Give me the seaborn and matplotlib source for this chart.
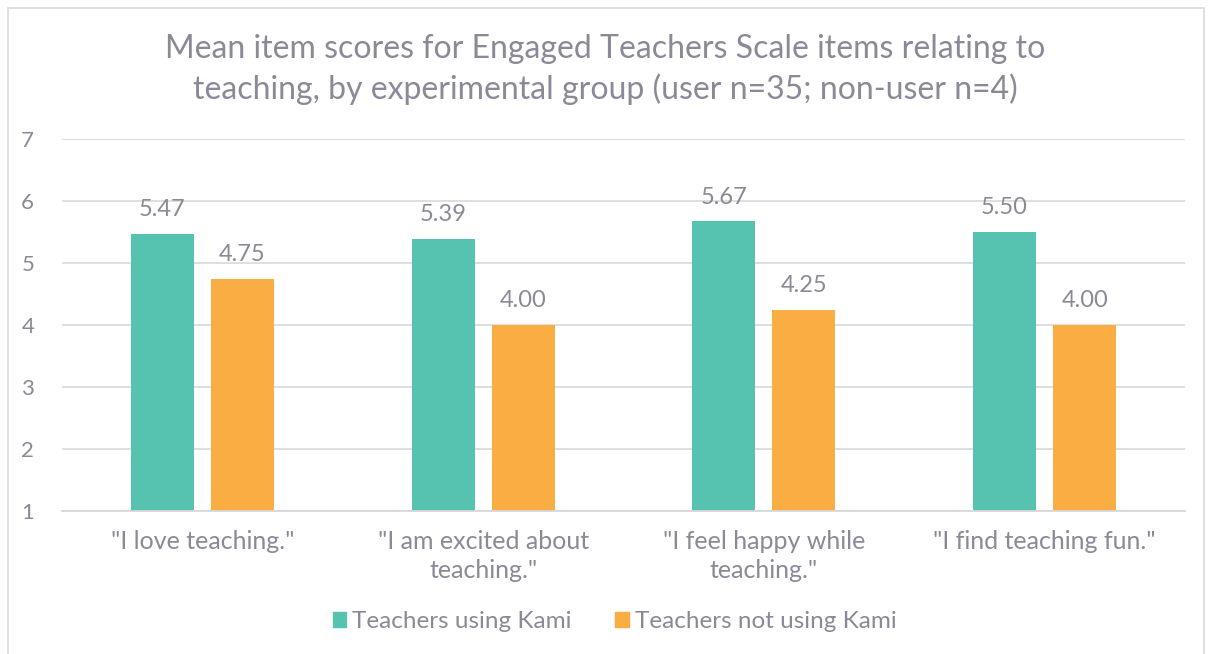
import pandas as pd
import numpy as np
import matplotlib.pyplot as plt
import seaborn as sns
from matplotlib.patches import Rectangle

items = ['"I love teaching."', '"I am excited about\nteaching."',
         '"I feel happy while\nteaching."', '"I find teaching fun."']
groups = ['Teachers using Kami', 'Teachers not using Kami']
users = [5.47, 5.39, 5.67, 5.50]
non_users = [4.75, 4.00, 4.25, 4.00]

df = pd.DataFrame({
    'item': items * 2,
    'group': [groups[0]] * 4 + [groups[1]] * 4,
    'score': users + non_users,
})

sns.set_style('white')
plt.rcParams['font.family'] = ['Lato', 'DejaVu Sans']
txt = '#8b8998'

fig = plt.figure(figsize=(12.1, 6.54), dpi=100)
ax = fig.add_axes([62/1210, 1 - 511/654, 1123/1210, 372/654])

sns.barplot(data=df, x='item', y='score', hue='group',
            palette=['#55c3b0', '#f9ad43'], saturation=1, width=0.57, gap=0.21,
            linewidth=0, ax=ax, legend=False)

ax.set_ylim(1, 7)
ax.set_yticks(range(1, 8))
ax.set_xlim(-0.5, 3.5)
ax.grid(axis='y', color='#dcdcdc', linewidth=1.3)
ax.set_axisbelow(True)
for s in ['top', 'right', 'left']:
    ax.spines[s].set_visible(False)
ax.spines['bottom'].set_color('#d8d8d8')
ax.spines['bottom'].set_linewidth(1.3)
ax.tick_params(axis='y', length=0, pad=20, labelsize=16, labelcolor=txt)
ax.tick_params(axis='x', length=0, pad=14, labelsize=18, labelcolor=txt)
for t in ax.get_xticklabels():
    t.set_linespacing(1.3)
ax.set_xlabel('')
ax.set_ylabel('')

for c in ax.containers:
    ax.bar_label(c, fmt='%.2f', padding=10, fontsize=17, color=txt)

fig.suptitle('Mean item scores for Engaged Teachers Scale items relating to\n'
             'teaching, by experimental group (user n=35; non-user n=4)',
             y=0.948, fontsize=23, color=txt, linespacing=1.35)

handles = [Rectangle((0, 0), 1, 1, color=c) for c in ['#55c3b0', '#f9ad43']]
fig.legend(handles, groups, loc='center', bbox_to_anchor=(0.508, 0.05),
           ncol=2, frameon=False, fontsize=17.5, labelcolor=txt,
           handlelength=0.55, handleheight=0.55, handletextpad=0.25,
           columnspacing=1.8)

fig.patches.append(Rectangle((8/1210, -0.01), 1196/1210, 1.0 - 8/654 + 0.01,
                             transform=fig.transFigure, fill=False,
                             edgecolor='#d9d9d9', linewidth=1.2))

fig.savefig('out.png', dpi=100)
